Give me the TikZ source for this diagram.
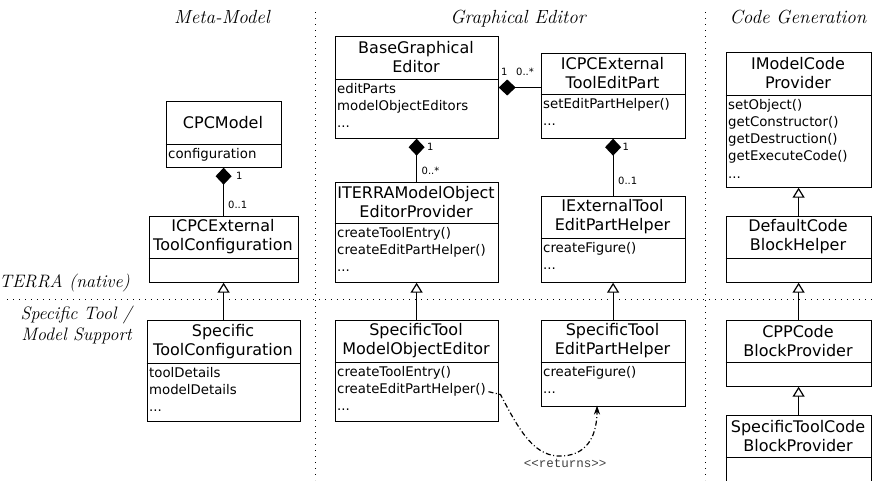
\documentclass[tikz,border=0pt]{standalone}
\usepackage{fontspec}
\newfontfamily\umlfont{DejaVu Sans}
\newfontfamily\stereofont{Liberation Mono}
\usetikzlibrary{arrows.meta}

% \umlclass{name}{x1}{y1}{x2}{ydiv}{y2}{title}{attributes}
\newcommand\umlclass[8]{%
  \node[classbox, anchor=north west, minimum width={#4-#2}, minimum height={#6-#3}] (#1) at (#2,#3) {};
  \draw[classline] (#2,#5) -- (#4,#5);
  \node[classtitle] (#1-title) at ({(#2+#4)/2},{(#3+#5)/2}) {#7};
  \node[classattrs, anchor=north west] (#1-attrs) at (#2,#5) {#8};
}

\tikzset{
  classbox/.style={draw, line width=1.2pt, fill=white, inner sep=0pt},
  classline/.style={line width=1.2pt},
  classtitle/.style={font=\umlfont\fontsize{16}{19}\selectfont, align=center, inner sep=0pt},
  classattrs/.style={font=\umlfont\fontsize{13.3}{17.2}\selectfont, align=left, inner xsep=2.5pt, inner ysep=3.5pt},
  mult/.style={font=\umlfont\fontsize{10}{11}\selectfont, inner sep=0pt, anchor=west},
  heading/.style={font=\itshape\fontsize{19}{22}\selectfont, inner sep=0pt},
  sidelabel/.style={font=\itshape\fontsize{18}{20.7}\selectfont, inner sep=0pt, anchor=east},
  separator/.style={line width=1pt, dash pattern=on 1pt off 5pt},
  composition/.style={line width=1.2pt, {Diamond[length=17pt, width=16pt]}-},
  generalization/.style={line width=1.2pt, -{Triangle[open, length=10pt, width=12pt, fill=white]}},
  returnsline/.style={line width=1.2pt, dash pattern=on 5pt off 2.5pt on 1pt off 2.5pt, -{Stealth[length=9pt, width=6pt]}},
}

\begin{document}
\begin{tikzpicture}[x=1pt, y=-1pt]
\useasboundingbox (0,0) rectangle (872,480);

% column and row separators
\draw[separator] (315.5,12) -- (315.5,480);
\draw[separator] (705.5,12) -- (705.5,480);
\draw[separator] (7,299.5) -- (872,299.5);

% headings
\node[heading, anchor=base] (hmeta) at (222,23) {Meta-Model};
\node[heading, anchor=base] (hgraph) at (518,23) {Graphical Editor};
\node[heading, anchor=base] (hcode) at (798,23) {Code Generation};
\node[sidelabel] (lterra) at (130,283.3) {TERRA (native)};
\node[sidelabel, align=right] (lspecific) at (132,325) {Specific Tool /\\Model Support};

% meta-model column
\umlclass{cpc}{165.5}{100.5}{280.5}{144.5}{166.5}{CPCModel}{configuration}
\umlclass{icpcconf}{148.5}{215.5}{297.5}{258.5}{281.5}{ICPCExternal\\ToolConfiguration}{}
\umlclass{specconf}{146.5}{319.5}{299.5}{363.5}{420.5}{Specific\\ToolConfiguration}{toolDetails\\modelDetails\\...}

% graphical editor column
\umlclass{base}{334.5}{35.5}{497.5}{79.5}{137.5}{BaseGraphical\\Editor}{editParts\\modelObjectEditors\\...}
\umlclass{iterra}{334.5}{181.5}{497.5}{223.5}{281.5}{ITERRAModelObject\\EditorProvider}{createToolEntry()\\createEditPartHelper()\\...}
\umlclass{stmoe}{334.5}{319.5}{497.5}{362.5}{420.5}{SpecificTool\\ModelObjectEditor}{createToolEntry()\\createEditPartHelper()\\...}
\umlclass{icpcedit}{540.5}{52.5}{684.5}{94.5}{137.5}{ICPCExternal\\ToolEditPart}{setEditPartHelper()\\...}
\umlclass{iexthelper}{540.5}{195.5}{684.5}{238.5}{281.5}{IExternalTool\\EditPartHelper}{createFigure()\\...}
\umlclass{sthelper}{540.5}{319.5}{684.5}{362.5}{405.5}{SpecificTool\\EditPartHelper}{createFigure()\\...}

% code generation column
\umlclass{imcp}{725.5}{51.5}{870.5}{95.5}{186.5}{IModelCode\\Provider}{setObject()\\getConstructor()\\getDestruction()\\getExecuteCode()\\...}
\umlclass{dcbh}{725.5}{215.5}{870.5}{258.5}{281.5}{DefaultCode\\BlockHelper}{}
\umlclass{cppcbp}{725.5}{319.5}{870.5}{362.5}{385.5}{CPPCode\\BlockProvider}{}
\umlclass{stcbp}{725.5}{414.5}{870.5}{457.5}{492}{SpecificToolCode\\BlockProvider}{}

% compositions
\draw[composition] (cpc.south) -- (icpcconf.north);
\node[mult] (m1a) at (236,176) {1};
\node[mult] (m1b) at (228,205) {0..1};

\draw[composition] (base.south) -- (iterra.north);
\node[mult] (m2a) at (427,147) {1};
\node[mult] (m2b) at (421.5,171) {0..*};

\draw[composition] (icpcedit.south) -- (iexthelper.north);
\node[mult] (m3a) at (622.5,147) {1};
\node[mult] (m3b) at (618,181) {0..1};

\draw[composition] (base.east |- 0,87.5) -- (icpcedit.west |- 0,87.5);
\node[mult] (m4a) at (501,72) {1};
\node[mult] (m4b) at (516,72) {0..*};

% generalizations
\draw[generalization] (specconf.north) -- (icpcconf.south);
\draw[generalization] (stmoe.north) -- (iterra.south);
\draw[generalization] (sthelper.north) -- (iexthelper.south);
\draw[generalization] (dcbh.north) -- (imcp.south);
\draw[generalization] (cppcbp.north) -- (dcbh.south);
\draw[generalization] (stcbp.north) -- (cppcbp.south);

% returns dependency
\coordinate (retfrom) at (488.5,391.7);
\coordinate (retto) at (597,405.5);
\draw[returnsline] (retfrom) -- (500.5,394.5)
  .. controls (520,432) and (535,458) .. (563,456)
  .. controls (590,454) and (597,432) .. (retto);
\node[font=\stereofont\fontsize{12.5}{14}\selectfont, text=black!75, inner sep=0pt] (retlabel) at (565,463) {<{}<returns>{}>};
\end{tikzpicture}
\end{document}
